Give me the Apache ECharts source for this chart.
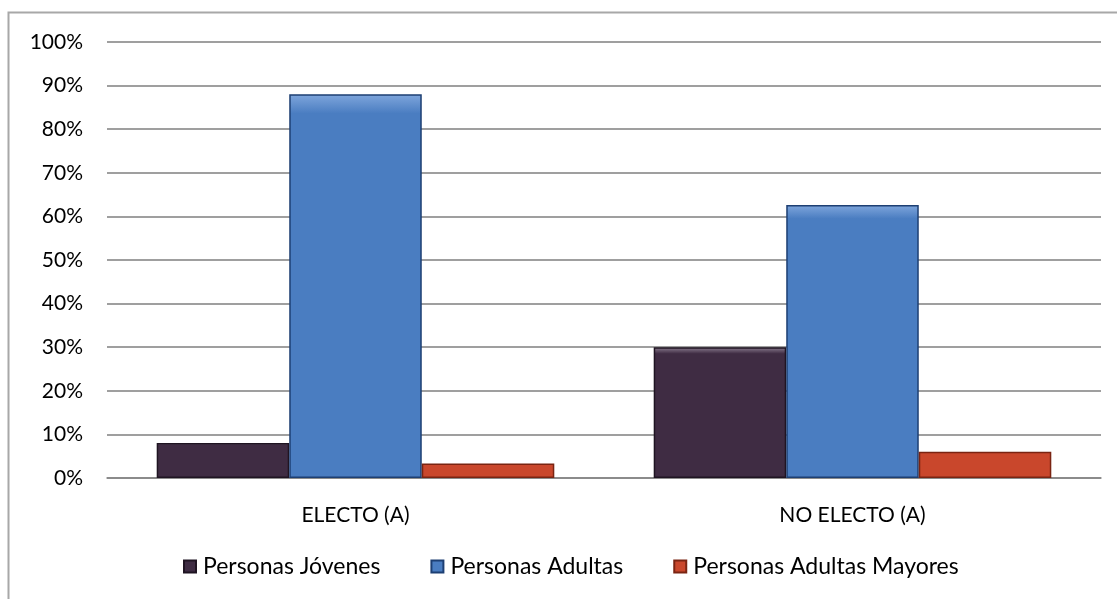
<!DOCTYPE html>
<html><head><meta charset="utf-8">
<script src="https://cdn.jsdelivr.net/npm/echarts@6/dist/echarts.min.js"></script>
<style>html,body{margin:0;padding:0;background:#fff}#c{width:1117px;height:599px}</style>
</head><body><div id="c"></div>
<script>
const categories = ['ELECTO (A)', 'NO ELECTO (A)'];
const seriesNames = ['Personas Jóvenes', 'Personas Adultas', 'Personas Adultas Mayores'];
const jovenes = [8, 30];
const adultas = [88, 62.6];
const mayores = [3.3, 6];
const yTicks = [0, 10, 20, 30, 40, 50, 60, 70, 80, 90, 100];

const colors = ['#3f2c43', '#4a7dc1', '#c9472c'];
const edge = ['#1f1422', '#1d3f73', '#7a2412'];
const lights = ['#8d7f92', '#7fa6dc', '#f0a070'];
function grad(c, light) {
  return new echarts.graphic.LinearGradient(0, 0, 0, 1, [
    {offset: 0, color: light}, {offset: 0.05, color: c}, {offset: 1, color: c}
  ]);
}
const font = 'Lato, "Open Sans", sans-serif';
const mk = (name, data, i) => ({
  name, type: 'bar', data, barGap: '0%', barCategoryGap: '20%',
  itemStyle: {color: grad(colors[i], lights[i]), borderColor: edge[i], borderWidth: 1.5},
  emphasis: {disabled: true}
});
const chart = echarts.init(document.getElementById('c'));
chart.setOption({
  animation: false,
  color: colors,
  graphic: [{type: 'rect', shape: {x: 8.5, y: 12.5, width: 1120, height: 600},
    style: {fill: 'none', stroke: '#a8a8a8', lineWidth: 2}, silent: true}],
  grid: {left: 107, right: 16, top: 42, bottom: 121},
  legend: {
    top: 550, left: 178, itemWidth: 12, itemHeight: 12, itemGap: 50,
    icon: 'rect',
    textStyle: {fontFamily: font, fontSize: 23, color: '#000', padding: [0, 0, 0, 2]},
    data: seriesNames
  },
  xAxis: {
    type: 'category', data: categories,
    axisLine: {lineStyle: {color: '#858585', width: 1.5}},
    axisTick: {show: false},
    axisLabel: {fontFamily: font, fontSize: 21, color: '#000', margin: 27}
  },
  yAxis: {
    type: 'value', min: 0, max: 100, interval: 10,
    axisLine: {show: false}, axisTick: {show: false},
    splitLine: {lineStyle: {color: '#7f7f7f', width: 1.5}},
    axisLabel: {fontFamily: font, fontSize: 21, color: '#000', margin: 24,
      formatter: v => yTicks.includes(v) ? v + '%' : ''}
  },
  series: [mk(seriesNames[0], jovenes, 0), mk(seriesNames[1], adultas, 1), mk(seriesNames[2], mayores, 2)]
});
</script></body></html>
